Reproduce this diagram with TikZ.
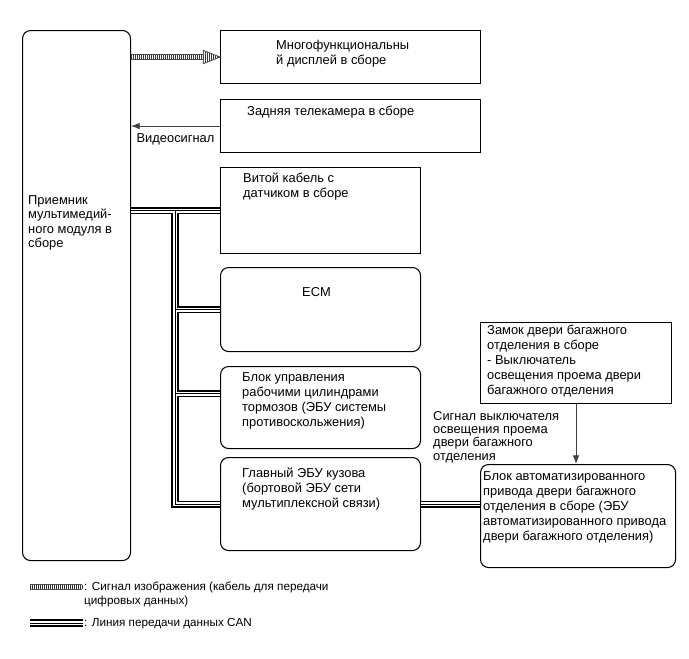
\documentclass[tikz,border=0pt]{standalone}
\usepackage{fontspec}
\setmainfont{Liberation Sans}
\usetikzlibrary{arrows.meta, positioning, patterns.meta}

\tikzset{
  sqbox/.style={draw, line width=0.9pt, inner sep=0pt, anchor=north west},
  roundbox/.style={sqbox, rounded corners=2.4mm},
  boxtext/.style={anchor=north west, align=left, inner sep=0pt, font=\fontsize{11}{12.8}\selectfont},
  canbus/.style={line width=6pt, draw=black, postaction={draw=white, line width=3.4pt}, postaction={draw=black, line width=0.8pt}},
  imgline/.style={line width=5.6pt, draw=black!70, postaction={draw=white, line width=4pt}, postaction={draw=black!80, line width=4pt, dash pattern=on 0.7pt off 1pt}},
  imghead/.style={draw=black!70, line width=0.7pt, pattern={Lines[angle=90, distance=1.7pt, line width=0.7pt]}, pattern color=black!80},
  sigline/.style={draw=black!75, line width=0.8pt, -{Latex[length=2.6mm, width=2mm]}}
}

\begin{document}
\begin{tikzpicture}[x=0.3mm, y=-0.3mm]
    \useasboundingbox (0,0) rectangle (689,658);

    % Receiver
    \node[roundbox, minimum width=32.4mm, minimum height=159mm] (recv) at (22,30) {};
    \node[boxtext, font=\fontsize{11}{12.4}\selectfont] (recv-t) at (28,195) {Приемник\\мультимедий-\\ного модуля в\\сборе};

    % Display and camera
    \node[sqbox, minimum width=78mm, minimum height=15.9mm] (disp) at (220,30) {};
    \node[boxtext] (disp-t) at (276,40) {Многофункциональны\\й дисплей в сборе};
    \node[sqbox, minimum width=78mm, minimum height=15.9mm] (cam) at (220,99) {};
    \node[boxtext] (cam-t) at (247,106) {Задняя телекамера в сборе};

    % Units on the CAN line
    \node[sqbox, minimum width=60mm, minimum height=25.8mm] (sens) at (220,167) {};
    \node[boxtext] (sens-t) at (243,173) {Витой кабель с\\датчиком в сборе};
    \node[roundbox, minimum width=60mm, minimum height=25.2mm] (ecm) at (220,267) {};
    \node[boxtext] (ecm-t) at (302,287) {ECM};
    \node[roundbox, minimum width=60mm, minimum height=24.6mm] (brake) at (220,366) {};
    \node[boxtext] (brake-t) at (242,372) {Блок управления\\рабочими цилиндрами\\тормозов (ЭБУ системы\\противоскольжения)};
    \node[roundbox, minimum width=60mm, minimum height=27.9mm] (body) at (220,457) {};
    \node[boxtext] (body-t) at (242,468) {Главный ЭБУ кузова\\(бортовой ЭБУ сети\\мультиплексной связи)};

    % Back door
    \node[sqbox, minimum width=57.3mm, minimum height=24.3mm] (lock) at (480,322) {};
    \node[boxtext] (lock-t) at (487,325) {Замок двери багажного\\отделения в сборе\\- Выключатель\\освещения проема двери\\багажного отделения};
    \node[roundbox, minimum width=58.5mm, minimum height=30.9mm] (pbd) at (480,464) {};
    \node[boxtext] (pbd-t) at (483,471) {Блок автоматизированного\\привода двери багажного\\отделения в сборе (ЭБУ\\автоматизированного привода\\двери багажного отделения)};

    % Image and video signals
    \draw[imgline] (recv.east |- disp.west) -- ([xshift=-5mm]disp.west);
    \draw[imghead] ([xshift=-5mm, yshift=2mm]disp.west) -- (disp.west) -- ([xshift=-5mm, yshift=-2mm]disp.west) -- cycle;
    \draw[sigline] (cam.west) -- (cam.west -| recv.east) node[midway, below=3pt] (vid-t) {\fontsize{11}{12.8}\selectfont Видеосигнал};

    % Door light switch signal
    \draw[sigline] (lock.south) -- (lock.south |- pbd.north);
    \node[boxtext, font=\fontsize{11}{11.4}\selectfont] (sw-t) at (433,411) {Сигнал выключателя\\освещения проема\\двери багажного\\отделения};

    % CAN lines
    \coordinate (tap) at (175,0);
    \coordinate (brake-in) at ([yshift=4.2mm]brake.west);
    \draw[canbus] (recv.east |- sens.west) -- (sens.west)
        (tap |- sens.west) |- (body.west)
        (tap |- ecm.west) -- (ecm.west)
        (tap |- brake-in) -- (brake-in)
        (body.east) -- (body.east -| pbd.west);

    % Legend
    \coordinate (leg-img) at (30,587);
    \draw[imgline] (leg-img) -- ++(52,0);
    \node[boxtext, font=\fontsize{10}{12}\selectfont] (leg-img-t) at (84,582) {: Сигнал изображения (кабель для передачи\\цифровых данных)};
    \coordinate (leg-can) at (30,623);
    \draw[canbus] (leg-can) -- ++(53,0);
    \node[boxtext, font=\fontsize{10}{12}\selectfont] (leg-can-t) at (84,618) {: Линия передачи данных CAN};
\end{tikzpicture}
\end{document}
